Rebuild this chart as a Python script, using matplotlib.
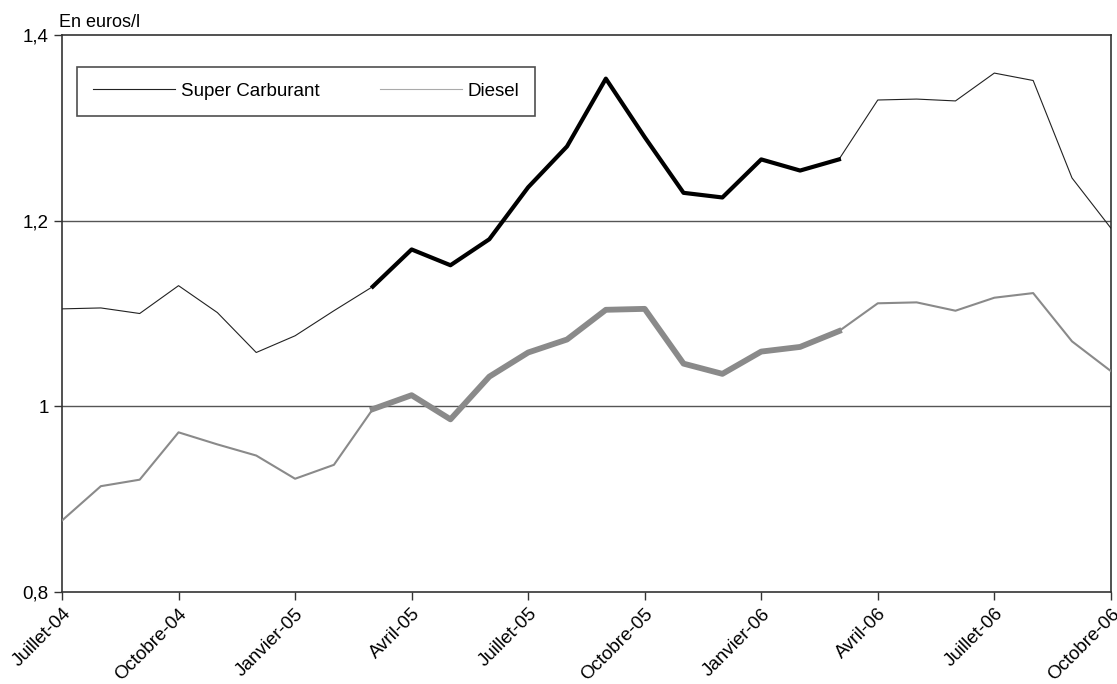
import matplotlib.pyplot as plt

plt.rcParams['font.family'] = ['Liberation Sans', 'DejaVu Sans']

# Données mensuelles, juillet 2004 à octobre 2006
mois = ['Juillet-04', 'Août-04', 'Septembre-04', 'Octobre-04', 'Novembre-04', 'Décembre-04',
        'Janvier-05', 'Février-05', 'Mars-05', 'Avril-05', 'Mai-05', 'Juin-05',
        'Juillet-05', 'Août-05', 'Septembre-05', 'Octobre-05', 'Novembre-05', 'Décembre-05',
        'Janvier-06', 'Février-06', 'Mars-06', 'Avril-06', 'Mai-06', 'Juin-06',
        'Juillet-06', 'Août-06', 'Septembre-06', 'Octobre-06']

super_carburant = [1.105, 1.106, 1.100, 1.130, 1.101, 1.058, 1.076, 1.103, 1.129, 1.169,
                   1.152, 1.180, 1.236, 1.280, 1.353, 1.290, 1.230, 1.225, 1.266, 1.254,
                   1.266, 1.330, 1.331, 1.329, 1.359, 1.351, 1.246, 1.192]

diesel = [0.877, 0.914, 0.921, 0.972, 0.959, 0.947, 0.922, 0.937, 0.997, 1.012,
          0.986, 1.032, 1.058, 1.072, 1.104, 1.105, 1.046, 1.035, 1.059, 1.064,
          1.081, 1.111, 1.112, 1.103, 1.117, 1.122, 1.070, 1.038]

# période mise en évidence (trait épais)
debut, fin = 8, 20

x = list(range(len(mois)))

fig = plt.figure(figsize=(11.17, 6.84), dpi=100)
ax = fig.add_axes([0.0555, 0.1345, 0.939, 0.8143])

ax.axhline(1.0, color='#555555', lw=1.0, zorder=1)
ax.axhline(1.2, color='#555555', lw=1.0, zorder=1)

ax.plot(x, super_carburant, color='#222222', lw=0.8, zorder=3, label='Super Carburant')
ax.plot(x, diesel, color='#8a8a8a', lw=1.5, zorder=3, label='Diesel')

ax.plot(x[debut:fin + 1], super_carburant[debut:fin + 1], color='black', lw=3.0, zorder=4)
ax.plot(x[debut:fin + 1], diesel[debut:fin + 1], color='#8a8a8a', lw=4.2, zorder=4)

ax.set_xlim(0, len(mois) - 1)
ax.set_ylim(0.8, 1.4)
ax.set_yticks([0.8, 1.0, 1.2, 1.4])
ax.set_yticklabels(['0,8', '1', '1,2', '1,4'], fontsize=13.5)

ticks = x[::3]
ax.set_xticks(ticks)
ax.set_xticklabels([mois[i] for i in ticks], rotation=45, ha='right',
                   rotation_mode='anchor', fontsize=13.5)

for s in ax.spines.values():
    s.set_color('#333333')
    s.set_linewidth(1.2)
ax.tick_params(direction='out', length=6, color='#333333', width=1.0)

fig.text(0.053, 0.9605, 'En euros/l', fontsize=13, ha='left', va='baseline')

leg = ax.legend(loc='upper left', bbox_to_anchor=(0.0143, 0.9426), ncol=2, frameon=True,
                fancybox=False, edgecolor='#222222', fontsize=13.5, handlelength=4.4,
                columnspacing=3.2, borderpad=0.85, handletextpad=0.3,
                borderaxespad=0)
leg.get_frame().set_linewidth(1.2)
leg.get_lines()[1].set_color('#aaaaaa')
leg.get_lines()[1].set_linewidth(0.8)

fig.savefig('out.png', dpi=100)
